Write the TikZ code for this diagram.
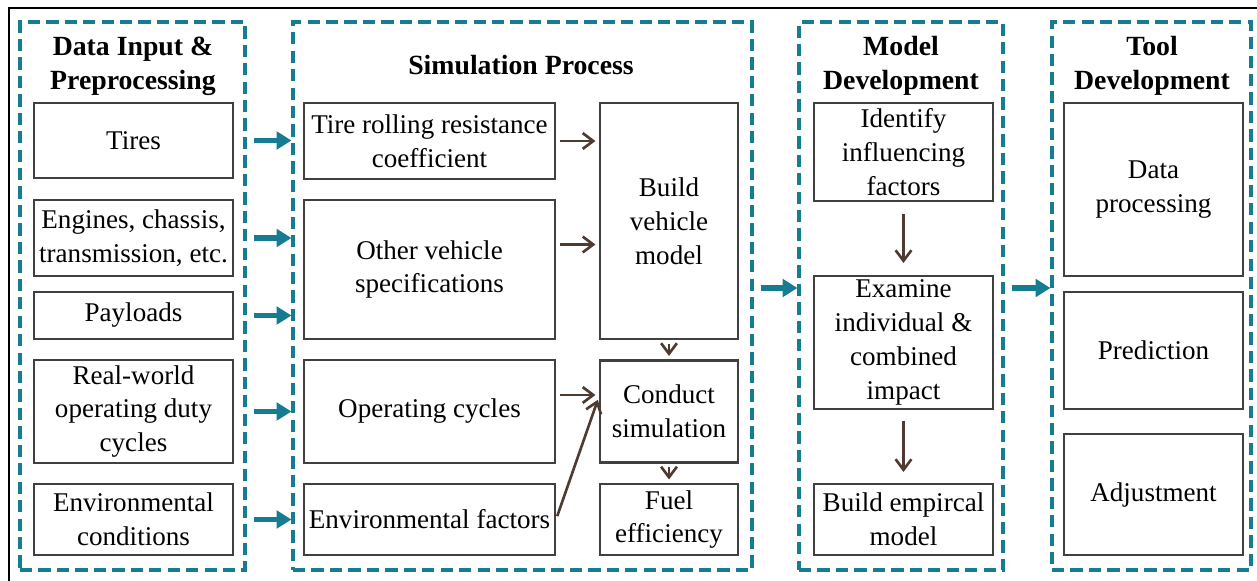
\documentclass[tikz,border=0pt]{standalone}
\usepackage{fontspec}
\setmainfont{Liberation Serif}
\usetikzlibrary{arrows.meta,calc}
\definecolor{tealline}{RGB}{22,124,145}
\definecolor{brownline}{RGB}{78,58,48}
\definecolor{boxline}{RGB}{64,64,64}

\begin{document}
\begin{tikzpicture}[x=0.02cm, y=-0.02cm,
    font=\fontsize{15.4}{19.3}\selectfont,
    group/.style={draw=tealline, line width=1.8pt, dash pattern=on 7pt off 3.5pt, minimum height=10.96cm, inner sep=0pt},
    box/.style={draw=boxline, line width=1.2pt, align=center, inner sep=1pt},
    title/.style={font=\fontsize{15.8}{19.3}\selectfont\bfseries, align=center},
    bigarrow/.style={draw=tealline, line width=3.2pt, -{Triangle[length=8.5pt, width=10pt]}, shorten <=4pt},
    smallarrow/.style={draw=brownline, line width=1.5pt, -{Straight Barb[length=6pt, width=9pt]}, shorten >=2pt, shorten <=2pt}]
    \useasboundingbox (0,0) rectangle (1257,581);
    % frame
    \path[draw, line width=1.3pt](9,581)--(9,8)--(1257,8);
    % groups
    \node[group, minimum width=4.5cm](grpdata)at(132.5,296){};
    \node[group, minimum width=9.18cm](grpsim)at(522.5,296){};
    \node[group, minimum width=4.08cm](grpmodel)at(901,296){};
    \node[group, minimum width=3.98cm](grptool)at(1151.5,296){};
    \node[title](tdata)at(133,66){Data Input \&\\Preprocessing};
    \node[title](tsim)at(521,65){Simulation Process};
    \node[title](tmodel)at(901,66){Model\\Development};
    \node[title](ttool)at(1152,66){Tool\\Development};
    % data input
    \node[box, minimum width=3.98cm, minimum height=1.5cm](tires)at(133.5,140.5){Tires};
    \node[box, minimum width=3.98cm, minimum height=1.52cm](engines)at(133.5,238){Engines, chassis,\\transmission, etc.};
    \node[box, minimum width=3.98cm, minimum height=0.94cm](payloads)at(133.5,315.5){Payloads};
    \node[box, minimum width=3.98cm, minimum height=2.06cm](dutycycles)at(133.5,411.5){Real-world\\operating duty\\cycles};
    \node[box, minimum width=3.98cm, minimum height=1.42cm](envcond)at(133.5,519.5){Environmental\\conditions};
    % simulation
    \node[box, minimum width=5.02cm, minimum height=1.52cm](rolling)at(429.5,141){Tire rolling resistance\\coefficient};
    \node[box, minimum width=5.02cm, minimum height=2.78cm](otherspec)at(429.5,269.5){Other vehicle\\specifications};
    \node[box, minimum width=5.02cm, minimum height=2.06cm](opcycles)at(429.5,411.5){Operating cycles};
    \node[box, minimum width=5.02cm, minimum height=1.42cm](envfactors)at(429.5,519.5){Environmental factors};
    \node[box, minimum width=2.76cm, minimum height=4.72cm](buildveh)at(669,221){Build\\vehicle\\model};
    \node[box, minimum width=2.76cm, minimum height=2.04cm](conduct)at(669,411.5){Conduct\\simulation};
    \node[box, minimum width=2.76cm, minimum height=1.42cm](fuel)at(669,519.5){Fuel\\efficiency};
    % model
    \node[box, minimum width=3.58cm, minimum height=1.96cm](identify)at(903.5,152){Identify\\influencing\\factors};
    \node[box, minimum width=3.58cm, minimum height=2.66cm](examine)at(903.5,342.5){Examine\\individual \&\\combined\\impact};
    \node[box, minimum width=3.58cm, minimum height=1.42cm](empirical)at(903.5,519.5){Build empircal\\model};
    % tool
    \node[box, minimum width=3.58cm, minimum height=3.46cm](dataproc)at(1153.5,189.5){Data\\processing};
    \node[box, minimum width=3.58cm, minimum height=2.34cm](prediction)at(1153.5,350.5){Prediction};
    \node[box, minimum width=3.58cm, minimum height=2.42cm](adjust)at(1153.5,494.5){Adjustment};
    % arrows between groups
    \coordinate(mid)at(0,288);
    \foreach \b in {tires,engines,payloads,dutycycles,envcond}
        \path[bigarrow](grpdata.east |- \b)to(grpsim.west |- \b);
    \path[bigarrow](grpsim.east |- mid)to(grpmodel.west |- mid);
    \path[bigarrow](grpmodel.east |- mid)to(grptool.west |- mid);
    % arrows inside groups
    \path[smallarrow](rolling.east)to(rolling.east -| buildveh.west);
    \path[smallarrow]([yshift=0.5cm]otherspec.east)to([yshift=0.5cm]otherspec.east -| buildveh.west);
    \path[smallarrow](buildveh)to(conduct);
    \path[smallarrow]([yshift=0.33cm]opcycles.east)to([yshift=0.33cm]opcycles.east -| conduct.west);
    \path[smallarrow](envfactors.east)to([yshift=0.3cm]conduct.west);
    \path[smallarrow](conduct)to(fuel);
    \path[smallarrow, shorten <=0.24cm, shorten >=0.24cm](identify)to(examine);
    \path[smallarrow, shorten <=0.22cm, shorten >=0.22cm](examine)to(empirical);
\end{tikzpicture}
\end{document}
